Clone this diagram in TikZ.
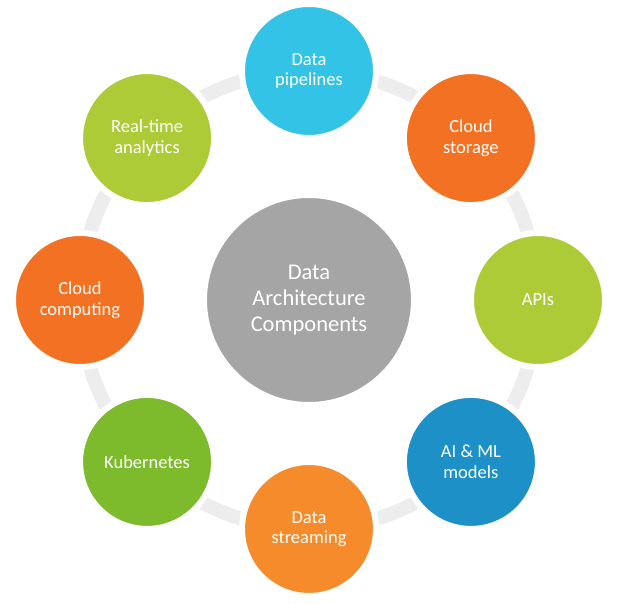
\documentclass[tikz,border=0pt]{standalone}
\usepackage{fontspec}
\setmainfont{Carlito}
\usetikzlibrary{shadows}
\definecolor{ringgray}{HTML}{EDEDED}
\definecolor{hubgray}{HTML}{A5A5A5}
\definecolor{pipecyan}{HTML}{33C3E6}
\definecolor{deeporange}{HTML}{F37122}
\definecolor{lightorange}{HTML}{F68B2B}
\definecolor{limegreen}{HTML}{ADCB36}
\definecolor{leafgreen}{HTML}{7DBA2C}
\definecolor{modelblue}{HTML}{1C90C7}

\begin{document}
\begin{tikzpicture}[x=1pt, y=1pt,
    comp/.style={circle, draw=white, line width=6pt, minimum size=134pt, inner sep=0pt,
        align=center, text=white, font=\fontsize{18.5}{20.5}\selectfont,
        drop shadow={opacity=0.18, shadow xshift=1.5pt, shadow yshift=-2pt}},
    hub/.style={circle, draw=white, line width=7pt, minimum size=211pt, inner sep=0pt,
        align=center, text=white, font=\fontsize{22.5}{25.7}\selectfont,
        drop shadow={opacity=0.18, shadow xshift=1.5pt, shadow yshift=-2pt}}]
    \useasboundingbox (-309, -304) rectangle (313, 300);
    % ring behind the components
    \draw[line width=14pt, ringgray] (0, 0) circle (229pt);
    \node[hub, fill=hubgray] (hub) at (0, 0) {Data\\Architecture\\Components};
    \foreach \a/\n/\c/\t in {90/pipelines/pipecyan/{Data\\pipelines},
            45/storage/deeporange/{Cloud\\storage},
            0/apis/limegreen/{APIs},
            -45/models/modelblue/{AI \& ML\\models},
            -90/streaming/lightorange/{Data\\streaming},
            -135/kubernetes/leafgreen/{Kubernetes},
            180/computing/deeporange/{Cloud\\computing},
            135/analytics/limegreen/{Real-time\\analytics}}
        \node[comp, fill=\c] (\n) at (\a:229) {\t};
\end{tikzpicture}
\end{document}
